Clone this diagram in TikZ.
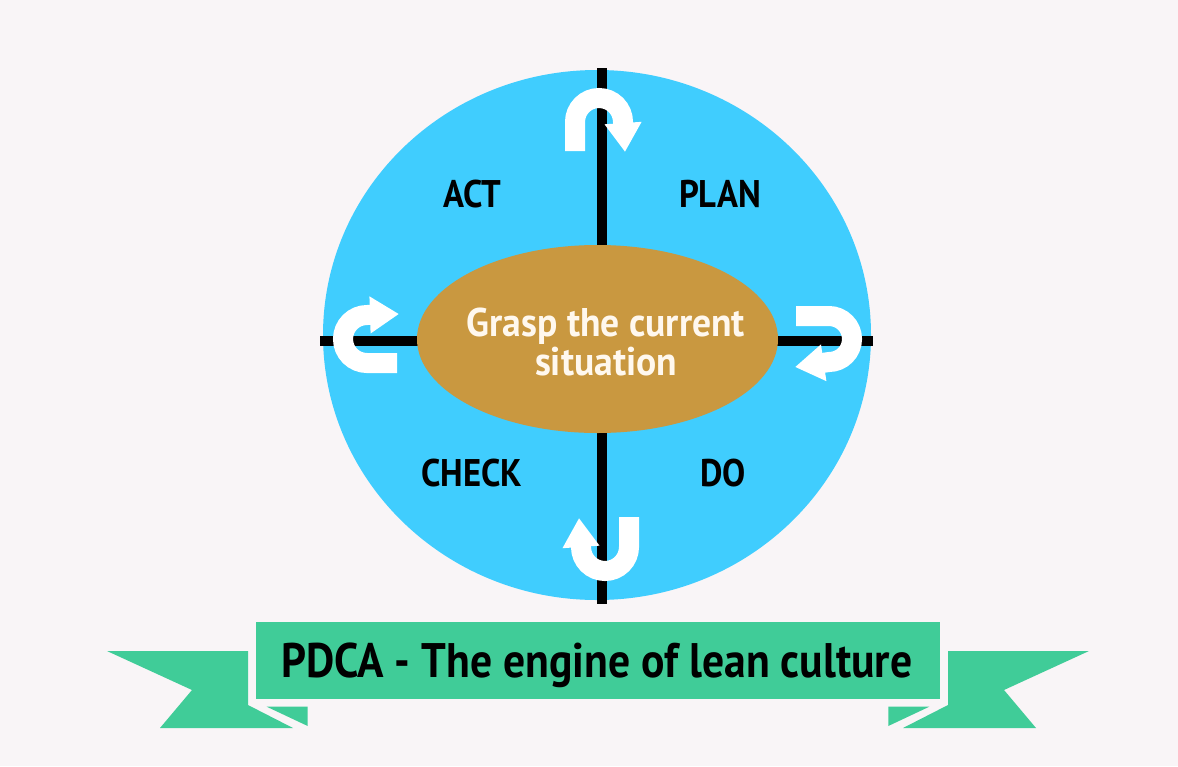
\documentclass[tikz,border=0pt]{standalone}
\usepackage{fontspec}
\newfontfamily\dinfont{PT Sans}[FakeStretch=0.9]
\newfontfamily\dinwide{PT Sans}[FakeStretch=0.94]
\usetikzlibrary{arrows.meta}
\definecolor{bg}{HTML}{F9F5F7}
\definecolor{sky}{HTML}{40CDFE}
\definecolor{ochre}{HTML}{C99840}
\definecolor{mint}{HTML}{40CC98}
\definecolor{cream}{HTML}{FFF8EE}
\begin{document}
\begin{tikzpicture}[x=1pt,y=-1pt,
  quad/.style={font=\dinfont\bfseries\fontsize{38.5}{40}\selectfont, anchor=base, inner sep=0pt, text=black},
  turn/.style={draw=white, line width=20pt, -{Triangle[length=29pt,width=35pt]}},
  axisline/.style={line width=10pt, draw=black}]
\useasboundingbox (0,0) rectangle (1178,766);
\fill[bg] (0,0) rectangle (1178,766);
% big disc
\fill[sky] (597,335) ellipse[x radius=274, y radius=265];
% axes
\coordinate (vtop) at (601.5,68);
\coordinate (vbot) at (601.5,604);
\coordinate (hl) at (320,340.5);
\coordinate (hr) at (873,340.5);
\draw[axisline] (vtop) -- (vbot);
\draw[axisline] (hl) -- (hr);
% centre ellipse
\fill[ochre] (597.5,339) ellipse[x radius=180.5, y radius=94];
\node[font=\dinwide\bfseries\fontsize{40}{39}\selectfont, text=cream, align=center, inner sep=0pt] (core) at (606,342) {Grasp the current\\situation};
% turning arrows
\draw[turn] (575,151) -- (575,122) arc[start angle=180, end angle=360, radius=24] -- (625,152);
\draw[turn] (796,316) -- (829,316) arc[start angle=270, end angle=450, radius=23] -- (795,367);
\draw[turn] (629,517) -- (629,547) arc[start angle=0, end angle=180, radius=24] -- (579,518);
\draw[turn] (397,363) -- (367,363) arc[start angle=90, end angle=270, radius=24] -- (399,314);
% quadrant labels
\node[quad] (act) at (472,207) {ACT};
\node[quad] (plan) at (720,207) {PLAN};
\node[quad] (check) at (472,486) {CHECK};
\node[quad] (do) at (723,486) {DO};
% ribbon
\fill[mint] (107,651) -- (248,651) -- (248,705) -- (293,728) -- (160,728) -- (192,690) -- cycle;
\fill[mint] (266.7,706.7) -- (307.7,706.7) -- (307.7,726) -- cycle;
\fill[mint] (1089,651) -- (948,651) -- (948,705) -- (903,728) -- (1036,728) -- (1004,690) -- cycle;
\fill[mint] (929.3,706.7) -- (888.3,706.7) -- (888.3,726) -- cycle;
\node[fill=mint, minimum width=684pt, minimum height=77pt, inner sep=0pt] (banner) at (598,660.5) {};
\node[font=\dinfont\bfseries\fontsize{48.5}{50}\selectfont, anchor=base, inner sep=0pt] (title) at (597,677) {PDCA - The engine of lean culture};
\end{tikzpicture}
\end{document}
